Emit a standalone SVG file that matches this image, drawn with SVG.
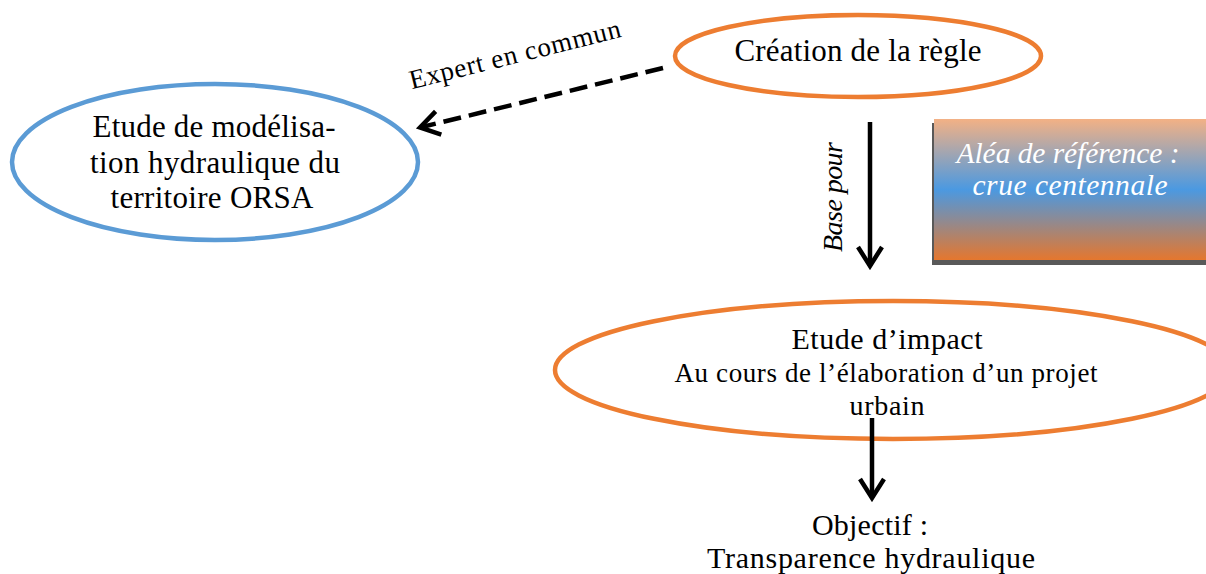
<svg xmlns="http://www.w3.org/2000/svg" width="1206" height="574" viewBox="0 0 1206 574">
<style>
.t{font-family:"Liberation Serif","Times New Roman",serif;fill:#000;text-anchor:middle}
.i{font-style:italic}
.w{fill:#fff}
.or{fill:none;stroke:#ed7d31;stroke-width:4.5}
.bl{fill:none;stroke:#5b9bd5;stroke-width:4.5}
.ln{stroke:#000;stroke-width:4.5;fill:none}
</style>
<defs>
<linearGradient id="g" x1="0" y1="0" x2="0" y2="1">
<stop offset="0" stop-color="#f3b185"/>
<stop offset="0.5" stop-color="#4b99e1"/>
<stop offset="1" stop-color="#e5772e"/>
</linearGradient>
<marker id="ah" markerUnits="userSpaceOnUse" viewBox="-24 -16 28 32" markerWidth="28" markerHeight="32" refX="0" refY="0" orient="auto">
<path d="M-19,-12 L0,0 L-19,12" fill="none" stroke="#000" stroke-width="4.5"/>
</marker>
</defs>
<g id="node-modelisation">
<ellipse class="bl" cx="215" cy="162" rx="203" ry="78"/>
<text class="t" font-size="31" x="214" y="137" textLength="243">Etude de modélisa-</text>
<text class="t" font-size="31" x="215" y="173" textLength="250">tion hydraulique du</text>
<text class="t" font-size="31" x="212" y="208" textLength="203">territoire ORSA</text>
</g>
<g id="node-creation">
<ellipse class="or" cx="858" cy="56" rx="183" ry="41"/>
<text class="t" font-size="31" x="858" y="61" textLength="247">Création de la règle</text>
</g>
<g id="node-alea">
<rect x="932" y="123" width="276" height="142" fill="#595959"/>
<rect x="934" y="119" width="274" height="141" fill="url(#g)"/>
<text class="t i w" font-size="29.5" x="1068" y="163" textLength="223">Aléa de référence :</text>
<text class="t i w" font-size="29.5" x="1070" y="195" textLength="195">crue centennale</text>
</g>
<g id="node-impact">
<ellipse class="or" cx="893" cy="370" rx="338" ry="69"/>
<text class="t" font-size="30" x="887" y="349" textLength="191">Etude d’impact</text>
<text class="t" font-size="27" x="886" y="382" textLength="423">Au cours de l’élaboration d’un projet</text>
<text class="t" font-size="28" x="887" y="415" textLength="75">urbain</text>
</g>
<g id="node-objectif">
<text class="t" font-size="30" x="870" y="535" textLength="116">Objectif :</text>
<text class="t" font-size="30" x="871" y="568" textLength="328">Transparence hydraulique</text>
</g>
<g id="connectors">
<line class="ln" x1="663" y1="68" x2="420" y2="127.5" stroke-dasharray="18 8" marker-end="url(#ah)"/>
<line class="ln" x1="870" y1="122" x2="870" y2="266" marker-end="url(#ah)"/>
<line class="ln" x1="872" y1="418" x2="872" y2="498" marker-end="url(#ah)"/>
<text class="t" font-size="27" transform="translate(517,63) rotate(-14)" textLength="217">Expert en commun</text>
<text class="t i" font-size="28" transform="translate(842,197) rotate(-90)" textLength="110">Base pour</text>
</g>
</svg>
